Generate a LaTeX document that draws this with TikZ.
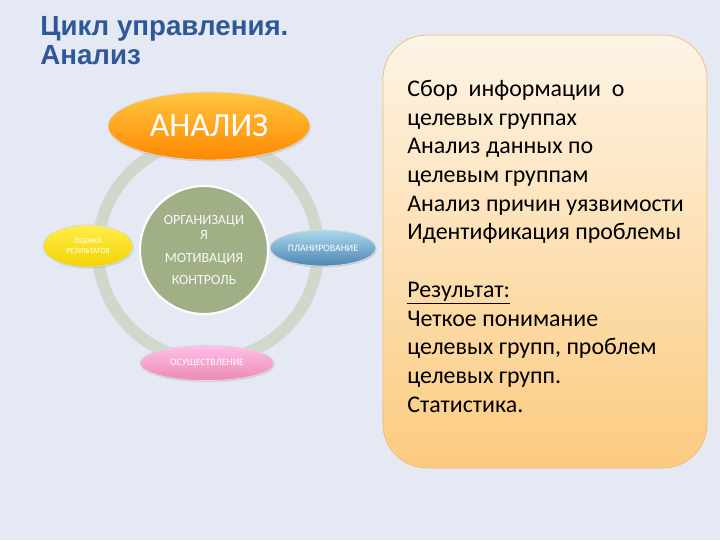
\documentclass[tikz,border=0pt]{standalone}
\usepackage{fontspec}
\setmainfont{Carlito}
\newfontfamily\titlefont{Liberation Sans}
\usetikzlibrary{shapes.geometric,shadows}

\definecolor{slidebg}{HTML}{E4E9F3}
\definecolor{titleblue}{HTML}{2F5899}
\definecolor{ringgray}{HTML}{CFD8CB}
\definecolor{coregreen}{HTML}{A0AF86}
\definecolor{boxtop}{HTML}{FDF4E6}
\definecolor{boxbottom}{HTML}{FCCB80}

\begin{document}
\begin{tikzpicture} [
    x=0.025cm, y=-0.025cm,
  ]

  \tikzstyle{stage} = [
    ellipse,
    inner sep=0pt,
    text=white,
    draw=white!70!gray,
    line width=0.6pt,
    drop shadow={opacity=0.25, shadow xshift=0.5pt, shadow yshift=-1pt},
  ]
  \tikzstyle{small} = [
    font=\fontsize{7}{8}\selectfont,
  ]

  % background and bounding box
  \fill[slidebg] (0,0) rectangle (720,540);
  \useasboundingbox (0,0) rectangle (720,540);

  % title
  \node[anchor=north west, inner sep=0, text=titleblue,
        font=\titlefont\bfseries\fontsize{19.7}{20.6}\selectfont, align=left]
        (title) at (40,16) {Цикл управления.\\Анализ};

  % cycle
  \coordinate (hub) at (208,250);
  \draw[ringgray, line width=8.5pt] (hub) circle (110);

  \node[circle, minimum size=3.2cm, fill=coregreen, draw=white, line width=1.5pt,
        text=white!92!coregreen, align=center, inner sep=0pt,
        font=\fontsize{10}{16}\selectfont] (core) at (204,250)
        {ОРГАНИЗАЦИ\\[-4.7pt]Я\\МОТИВАЦИЯ\\КОНТРОЛЬ};

  \node[stage, minimum width=5.05cm, minimum height=1.7cm,
        top color=orange!60!yellow!75!white, bottom color=orange!90!red!85!yellow,
        font=\fontsize{24}{26}\selectfont] (anal) at (209,126) {АНАЛИЗ};
  \node[stage, minimum width=2.25cm, minimum height=1.05cm,
        top color=yellow!80!orange!70!white, bottom color=yellow!75!orange!95!black,
        align=center, font=\fontsize{5.5}{6.5}\selectfont] (eval) at (88,246)
        {ОЦЕНКА\\РЕЗУЛЬТАТОВ};
  \node[stage, small, minimum width=2.65cm, minimum height=0.9cm,
        top color=blue!30!cyan!30!white!85!gray, bottom color=blue!45!cyan!40!gray] (plan) at (323,248)
        {ПЛАНИРОВАНИЕ};
  \node[stage, small, minimum width=3.35cm, minimum height=0.88cm,
        top color=red!35!magenta!25!white, bottom color=red!60!magenta!45!white!85!gray] (exec) at (207,363)
        {ОСУЩЕСТВЛЕНИЕ};

  % results box
  \node[rounded corners=1.1cm, minimum width=8.1cm, minimum height=10.82cm,
        top color=boxtop, bottom color=boxbottom, draw=boxbottom!80!brown,
        line width=0.5pt] (info) at (545,251.5) {};
  \node[anchor=north west, inner sep=0, align=left,
        font=\fontsize{17}{20.4}\selectfont] (infotext) at (407,80)
        {Сбор\ \ информации\ \ о\\
         целевых группах\\
         Анализ данных по\\
         целевым группам\\
         Анализ причин уязвимости\\
         Идентификация проблемы\\[20.4pt]
         \underline{Результат:}\\
         Четкое понимание\\
         целевых групп, проблем\\
         целевых групп.\\
         Статистика.};

\end{tikzpicture}
\end{document}
